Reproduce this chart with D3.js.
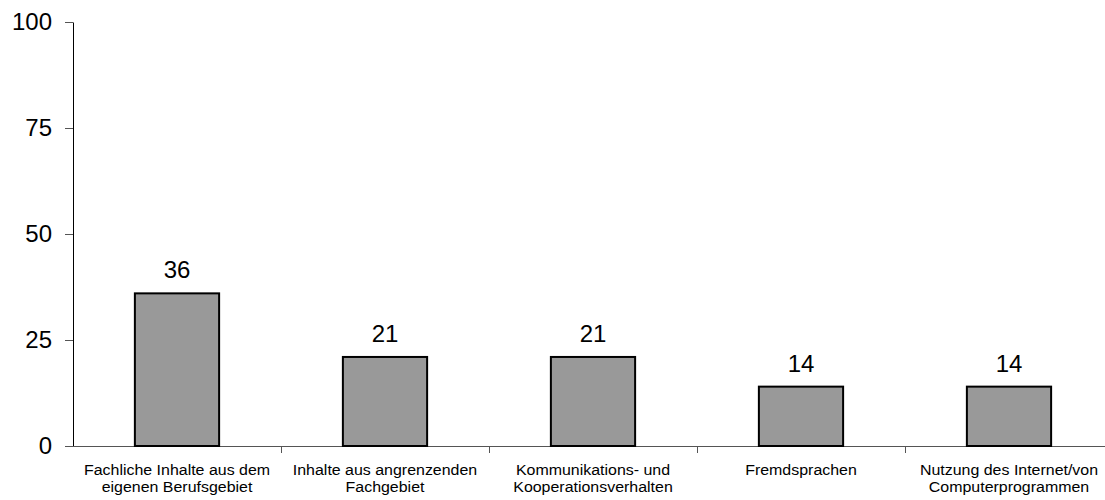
<!DOCTYPE html>
<html>
<head>
<meta charset="utf-8">
<script src="https://cdn.jsdelivr.net/npm/d3@7"></script>
<style>
  html, body { margin: 0; padding: 0; background: #fff; }
  svg { display: block; font-family: "Liberation Sans", Arial, sans-serif; }
</style>
</head>
<body>
<svg id="chart" width="1105" height="500"></svg>
<script>
const categories = [
  ["Fachliche Inhalte aus dem", "eigenen Berufsgebiet"],
  ["Inhalte aus angrenzenden", "Fachgebiet"],
  ["Kommunikations- und", "Kooperationsverhalten"],
  ["Fremdsprachen"],
  ["Nutzung des Internet/von", "Computerprogrammen"]
];
const values = [36, 21, 21, 14, 14];
const yTicks = [0, 25, 50, 75, 100];

const svg = d3.select("#chart");
const plotLeft = 73, plotTop = 22, plotBottom = 446, plotRight = 1113;

const x = d3.scaleBand()
  .domain(d3.range(values.length))
  .range([plotLeft, plotRight])
  .paddingInner(0).paddingOuter(0);

const y = d3.scaleLinear().domain([0, 100]).range([plotBottom, plotTop]);

// y axis
const yAxis = svg.append("g")
  .attr("transform", `translate(${plotLeft},0)`)
  .call(d3.axisLeft(y).tickValues(yTicks).tickSize(8).tickPadding(13).tickSizeOuter(0));
yAxis.select(".domain").attr("stroke", "#000").attr("stroke-width", 1);
yAxis.selectAll(".tick line").attr("stroke", "#555");
yAxis.selectAll(".tick text")
  .attr("fill", "#000")
  .style("font-size", "24px")
  .style("font-family", "Liberation Sans, Arial, sans-serif");

// x axis line with category boundary ticks
svg.append("line")
  .attr("x1", plotLeft - 8).attr("x2", plotRight)
  .attr("y1", plotBottom + 0.5).attr("y2", plotBottom + 0.5)
  .attr("stroke", "#555").attr("stroke-width", 1);

svg.selectAll(".cat-tick")
  .data(d3.range(1, values.length))
  .join("line")
  .attr("class", "cat-tick")
  .attr("x1", d => x(d) + 0.5).attr("x2", d => x(d) + 0.5)
  .attr("y1", plotBottom).attr("y2", plotBottom + 7)
  .attr("stroke", "#555");

// bars
const barW = x.bandwidth() * 0.405;
svg.selectAll(".bar")
  .data(values)
  .join("rect")
  .attr("class", "bar")
  .attr("x", (d, i) => x(i) + (x.bandwidth() - barW) / 2)
  .attr("y", d => y(d))
  .attr("width", barW)
  .attr("height", d => y(0) - y(d))
  .attr("fill", "#999999")
  .attr("stroke", "#000")
  .attr("stroke-width", 2);

// value labels
svg.selectAll(".val")
  .data(values)
  .join("text")
  .attr("class", "val")
  .attr("x", (d, i) => x(i) + x.bandwidth() / 2)
  .attr("y", d => y(d) - 15)
  .attr("text-anchor", "middle")
  .style("font-size", "24px")
  .attr("fill", "#000")
  .text(d => d);

// category labels (slightly wide lettering)
const catG = svg.selectAll(".cat")
  .data(categories)
  .join("text")
  .attr("class", "cat")
  .attr("transform", (d, i) => `translate(${x(i) + x.bandwidth() / 2},475) scale(1.1,1)`)
  .attr("text-anchor", "middle")
  .style("font-size", "14.5px")
  .attr("fill", "#000");
catG.selectAll("tspan")
  .data(d => d)
  .join("tspan")
  .attr("x", 0)
  .attr("dy", (d, i) => i === 0 ? 0 : 17.5)
  .text(d => d);
</script>
</body>
</html>
